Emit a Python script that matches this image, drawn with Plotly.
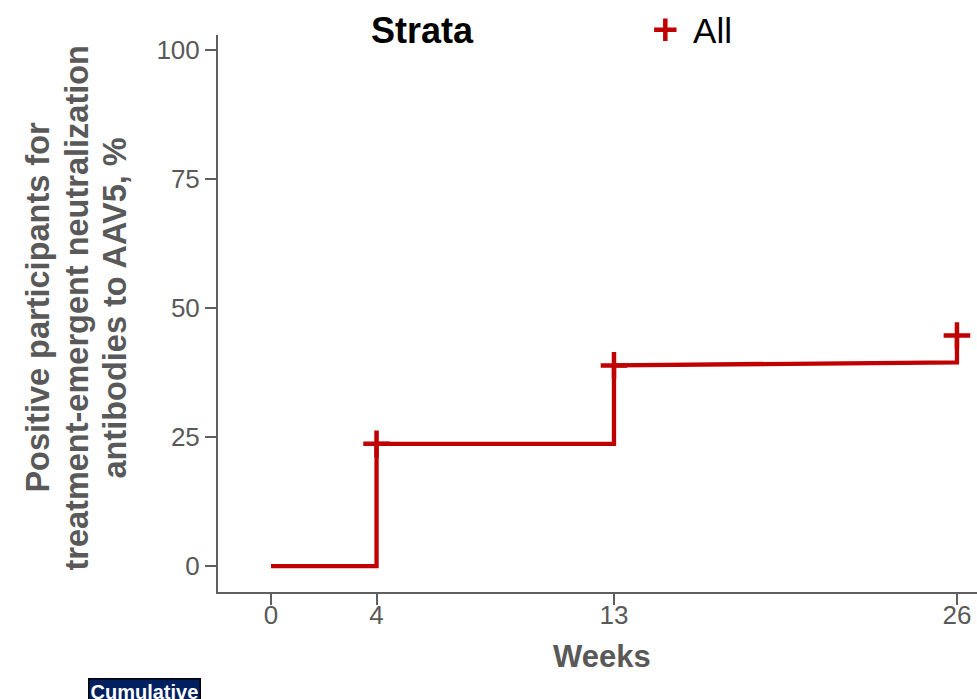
import plotly.graph_objects as go

# Kaplan-Meier style cumulative incidence of treatment-emergent NAbs to AAV5
event_weeks = [4, 13, 26]
pct_before_event = [0.0, 23.7, 39.5]
pct_after_event = [23.7, 38.9, 44.7]

censor_weeks = [4, 13, 26]
censor_pct = [23.7, 38.9, 44.7]

x_ticks = [0, 4, 13, 26]
y_ticks = [0, 25, 50, 75, 100]

y_title_lines = [
    "Positive participants for",
    "treatment-emergent neutralization",
    "antibodies to AAV5, %",
]

RED = "#C00000"
AXIS = "#5f5f5f"
TEXT = "#595959"
FONT = "Arial, Liberation Sans, sans-serif"

# build the step path from the event arrays
path_x, path_y = [0], [0.0]
for w, b, a in zip(event_weeks, pct_before_event, pct_after_event):
    path_x += [w, w]
    path_y += [b, a]

fig = go.Figure()
fig.add_trace(go.Scatter(
    x=path_x, y=path_y, mode="lines",
    line=dict(color=RED, width=4.3),
    showlegend=False, hoverinfo="skip",
))
fig.add_trace(go.Scatter(
    x=censor_weeks, y=censor_pct, mode="markers", name=" All",
    marker=dict(symbol="cross-thin", size=19, color=RED,
                line=dict(color=RED, width=4.5)),
))

fig.update_layout(
    width=977, height=699,
    margin=dict(l=218, r=0, t=30, b=107),
    plot_bgcolor="white", paper_bgcolor="white",
    font=dict(family=FONT, color=TEXT),
    xaxis=dict(
        range=[-2.01, 26.76], tickvals=x_ticks, ticktext=[str(v) for v in x_ticks],
        showgrid=False, zeroline=False, showline=True, linecolor=AXIS, linewidth=2,
        ticks="outside", ticklen=11, tickwidth=2, tickcolor=AXIS,
        ticklabelstandoff=-12,
        tickfont=dict(size=26, color=TEXT, family=FONT),
    ),
    yaxis=dict(
        range=[-5.0, 102.9], tickvals=y_ticks, ticktext=[str(v) for v in y_ticks],
        showgrid=False, zeroline=False, showline=True, linecolor=AXIS, linewidth=2,
        ticks="outside", ticklen=11, tickwidth=2, tickcolor=AXIS,
        tickfont=dict(size=26, color=TEXT, family=FONT),
    ),
    legend=dict(
        orientation="h", x=0.563, xanchor="left", y=1.009, yanchor="middle",
        font=dict(size=35, color="black", family=FONT),
        bgcolor="rgba(0,0,0,0)",
    ),
    showlegend=True,
)

# legend heading
fig.add_annotation(
    text="<b>Strata</b>", xref="paper", yref="paper",
    x=(422 - 218) / 759, y=(592 - 25) / 562, xanchor="center", yanchor="middle",
    showarrow=False, font=dict(size=36, color="black", family=FONT),
)

# y-axis title, one rotated line per annotation
for line, px in zip(y_title_lines, [38, 77, 115]):
    fig.add_annotation(
        text=f"<b>{line}</b>", xref="paper", yref="paper",
        x=(px - 218) / 759, y=(592 - 305) / 562,
        xanchor="center", yanchor="middle", textangle=-90, showarrow=False,
        font=dict(size=32.5, color=TEXT, family=FONT),
    )

fig.add_annotation(
    text="<b>Weeks</b>", xref="paper", yref="paper",
    x=(602 - 218) / 759, y=(592 - 657) / 562, xanchor="center", yanchor="middle",
    showarrow=False, font=dict(size=31, color=TEXT, family=FONT),
)

# caption tab at the lower left
fig.add_annotation(
    text="<b>Cumulative</b><br> ", xref="paper", yref="paper",
    x=(88 - 218) / 759, y=(592 - 679) / 562, xanchor="left", yanchor="top",
    showarrow=False, align="left", bgcolor="#002060", bordercolor="#000000",
    borderwidth=1.5, borderpad=1, font=dict(size=20, color="white", family=FONT),
)

fig.write_html("out.html")
